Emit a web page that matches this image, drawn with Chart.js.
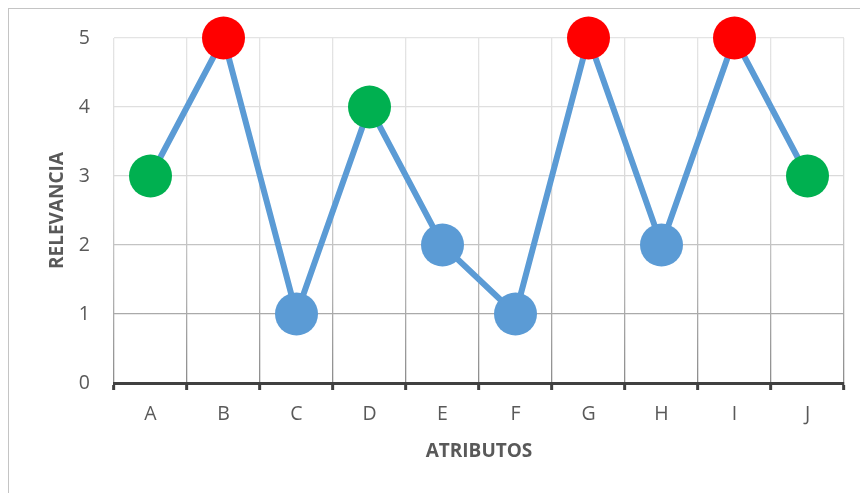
<!DOCTYPE html>
<html>
<head>
<meta charset="utf-8">
<script src="https://cdn.jsdelivr.net/npm/chart.js@4.4.0/dist/chart.umd.min.js"></script>
<style>
  html, body { margin: 0; padding: 0; background: #ffffff; }
  #wrap { position: relative; width: 860px; height: 493px; overflow: hidden; }
  #frame { position: absolute; left: 8px; top: 8px; width: 900px; height: 600px;
           border-left: 1.5px solid #c4c4c4; border-top: 1.5px solid #c4c4c4; pointer-events: none; }
  canvas { position: absolute; left: 0; top: 0; }
</style>
</head>
<body>
<div id="wrap">
  <canvas id="c" width="860" height="493"></canvas>
  <div id="frame"></div>
</div>
<script>
const categories = ["A", "B", "C", "D", "E", "F", "G", "H", "I", "J"];
const relevancia = [3, 5, 1, 4, 2, 1, 5, 2, 5, 3];
const yTicks = [0, 1, 2, 3, 4, 5];
const xTitle = "ATRIBUTOS";
const yTitle = "RELEVANCIA";

const RED = "#ff0000", GREEN = "#00b050", BLUE = "#5b9bd5";
function colorFor(v) { return v >= 5 ? RED : (v >= 3 ? GREEN : BLUE); }

let gridGrad = null;
function gridColor(ctx) {
  const chart = ctx.chart;
  const a = chart.chartArea;
  if (!a) return "#d9d9d9";
  if (!gridGrad) {
    const g = chart.ctx.createLinearGradient(0, a.top, 0, a.bottom);
    g.addColorStop(0, "#e4e4e4");
    g.addColorStop(0.4, "#dadada");
    g.addColorStop(0.7, "#b8b8b8");
    g.addColorStop(1, "#8c8c8c");
    gridGrad = g;
  }
  return gridGrad;
}

const textColor = "#595959";
const fam = "'Open Sans', 'Liberation Sans', sans-serif";

new Chart(document.getElementById("c"), {
  type: "line",
  data: {
    labels: categories,
    datasets: [{
      data: relevancia,
      borderColor: BLUE,
      borderWidth: 6,
      tension: 0,
      fill: false,
      clip: false,
      pointRadius: 21.5,
      pointHoverRadius: 21.5,
      pointBorderWidth: 0,
      pointBackgroundColor: (ctx) => colorFor(ctx.raw),
      pointBorderColor: (ctx) => colorFor(ctx.raw)
    }]
  },
  options: {
    responsive: false,
    animation: false,
    events: [],
    layout: { autoPadding: false, padding: { top: 38, right: 16, left: 0, bottom: 0 } },
    plugins: { legend: { display: false }, tooltip: { enabled: false } },
    scales: {
      x: {
        type: "category",
        offset: true,
        grid: {
          offset: true,
          color: gridColor,
          lineWidth: 1.3,
          drawTicks: true,
          tickLength: 7,
          tickColor: "#404040",
          tickWidth: 3
        },
        border: { display: true, color: "#404040", width: 3 },
        ticks: { color: textColor, font: { family: fam, size: 19.5 }, padding: 13, maxRotation: 0 },
        title: { display: true, text: xTitle, color: textColor,
                 font: { family: fam, size: 19, weight: "bold" }, padding: { top: 0, bottom: 30 } },
        afterFit: (s) => { s.height = 110; s.paddingLeft = 0; s.paddingRight = 0; }
      },
      y: {
        min: 0, max: 5,
        afterBuildTicks: (s) => { s.ticks = yTicks.map(v => ({ value: v })); },
        grid: { color: gridColor, lineWidth: 1.3, drawTicks: false },
        border: { display: false },
        ticks: { color: textColor, font: { family: fam, size: 19.5 }, padding: 24, stepSize: 1 },
        title: { display: true, text: yTitle, color: textColor,
                 font: { family: fam, size: 19, weight: "bold" }, padding: { top: 46, bottom: 0 } },
        afterFit: (s) => { s.width = 114; s.paddingTop = 0; s.paddingBottom = 0; }
      }
    }
  }
});
</script>
</body>
</html>
